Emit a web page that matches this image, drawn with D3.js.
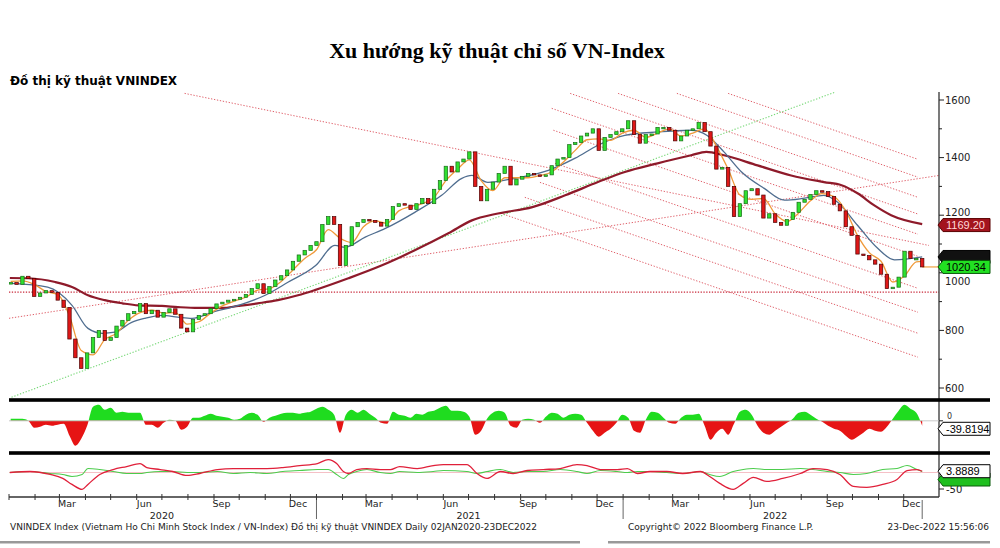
<!DOCTYPE html>
<html><head><meta charset="utf-8">
<script src="https://cdn.jsdelivr.net/npm/d3@7"></script>
<style>body{margin:0;background:#fff;} svg{display:block;}</style>
</head><body><svg id="c" width="1000" height="548"></svg>
<script>
// ---------------- DATA ----------------
const weeks = ["2020-01-03","2020-01-10","2020-01-17","2020-01-24","2020-01-31","2020-02-07","2020-02-14","2020-02-21","2020-02-28","2020-03-06","2020-03-13","2020-03-20","2020-03-27","2020-04-03","2020-04-10","2020-04-17","2020-04-24","2020-05-01","2020-05-08","2020-05-15","2020-05-22","2020-05-29","2020-06-05","2020-06-12","2020-06-19","2020-06-26","2020-07-03","2020-07-10","2020-07-17","2020-07-24","2020-07-31","2020-08-07","2020-08-14","2020-08-21","2020-08-28","2020-09-04","2020-09-11","2020-09-18","2020-09-25","2020-10-02","2020-10-09","2020-10-16","2020-10-23","2020-10-30","2020-11-06","2020-11-13","2020-11-20","2020-11-27","2020-12-04","2020-12-11","2020-12-18","2020-12-25",
"2021-01-01","2021-01-08","2021-01-15","2021-01-22","2021-01-29","2021-02-05","2021-02-12","2021-02-19","2021-02-26","2021-03-05","2021-03-12","2021-03-19","2021-03-26","2021-04-02","2021-04-09","2021-04-16","2021-04-23","2021-04-30","2021-05-07","2021-05-14","2021-05-21","2021-05-28","2021-06-04","2021-06-11","2021-06-18","2021-06-25","2021-07-02","2021-07-09","2021-07-16","2021-07-23","2021-07-30","2021-08-06","2021-08-13","2021-08-20","2021-08-27","2021-09-03","2021-09-10","2021-09-17","2021-09-24","2021-10-01","2021-10-08","2021-10-15","2021-10-22","2021-10-29","2021-11-05","2021-11-12","2021-11-19","2021-11-26","2021-12-03","2021-12-10","2021-12-17","2021-12-24","2021-12-31",
"2022-01-07","2022-01-14","2022-01-21","2022-01-28","2022-02-04","2022-02-11","2022-02-18","2022-02-25","2022-03-04","2022-03-11","2022-03-18","2022-03-25","2022-04-01","2022-04-08","2022-04-15","2022-04-22","2022-04-29","2022-05-06","2022-05-13","2022-05-20","2022-05-27","2022-06-03","2022-06-10","2022-06-17","2022-06-24","2022-07-01","2022-07-08","2022-07-15","2022-07-22","2022-07-29","2022-08-05","2022-08-12","2022-08-19","2022-08-26","2022-09-02","2022-09-09","2022-09-16","2022-09-23","2022-09-30","2022-10-07","2022-10-14","2022-10-21","2022-10-28","2022-11-04","2022-11-11","2022-11-18","2022-11-25","2022-12-02","2022-12-09","2022-12-16","2022-12-23"];

const closes = [966,960,988,980,918,930,938,932,905,880,770,705,668,722,775,800,765,775,815,835,858,866,893,858,870,846,862,875,856,808,795,838,852,858,876,892,898,905,908,915,925,945,962,928,952,975,990,1010,1040,1062,1078,1095,
1108,1168,1195,1168,1025,1095,1160,1175,1185,1182,1175,1162,1185,1230,1240,1235,1220,1240,1258,1240,1290,1320,1370,1350,1385,1395,1420,1300,1250,1290,1315,1345,1370,1305,1325,1335,1345,1340,1335,1340,1372,1395,1400,1445,1452,1475,1485,1500,1425,1470,1480,1490,1500,
1528,1480,1450,1480,1482,1505,1505,1495,1458,1475,1495,1500,1522,1490,1440,1360,1366,1300,1195,1240,1285,1292,1270,1190,1205,1175,1165,1185,1210,1245,1255,1272,1285,1282,1265,1238,1215,1160,1130,1065,1060,1045,1030,995,945,950,985,1075,1050,1050,1020.34];

const macdHist = [16,16,16,0,-56,-48,-32,-40,-32,-24,
-120,-200,-144,-40,112,128,88,104,64,72,
64,64,64,-32,-32,-56,-16,8,0,-72,
-48,24,24,40,56,40,32,24,8,16,
48,64,48,-8,24,40,56,64,64,56,
64,72,96,112,88,48,-96,48,88,64,
88,56,24,-16,-24,72,48,40,24,56,
48,72,80,104,120,80,80,72,32,-112,
-80,16,64,80,64,-40,-56,8,16,8,
-16,32,64,56,24,48,56,48,-16,-80,
-128,-96,-64,-16,48,24,-80,-96,8,72,
64,24,-16,-24,24,48,48,56,-40,-152,
-96,-64,-112,-24,72,88,48,-40,-96,-112,
-80,-48,-16,16,64,72,48,16,-8,-40,
-64,-80,-120,-152,-128,-96,-64,-80,-88,-48,
16,80,128,96,64,-39.8194];

const maShort = [["2020-01-03",970],["2020-01-17",972],["2020-01-31",960],["2020-02-14",935],["2020-02-28",925],["2020-03-13",850],["2020-03-27",730],["2020-04-10",715],["2020-04-24",768],["2020-05-08",790],["2020-05-22",835],["2020-06-05",862],["2020-06-19",870],["2020-07-03",860],["2020-07-17",862],["2020-07-31",822],["2020-08-14",830],["2020-08-28",860],["2020-09-11",885],["2020-09-25",902],["2020-10-09",915],["2020-10-23",940],["2020-11-06",945],["2020-11-20",970],["2020-12-04",1010],["2020-12-18",1050],["2021-01-01",1080],["2021-01-15",1150],["2021-01-29",1120],["2021-02-12",1105],["2021-02-26",1160],["2021-03-12",1180],["2021-03-26",1172],["2021-04-09",1215],["2021-04-23",1230],["2021-05-07",1240],["2021-05-21",1262],["2021-06-04",1320],["2021-06-18",1360],["2021-07-02",1392],["2021-07-16",1320],["2021-07-30",1285],["2021-08-13",1330],["2021-08-27",1330],["2021-09-10",1330],["2021-09-24",1338],["2021-10-08",1350],["2021-10-22",1385],["2021-11-05",1425],["2021-11-19",1462],["2021-12-03",1465],["2021-12-17",1460],["2021-12-31",1485],["2022-01-14",1495],["2022-01-28",1470],["2022-02-11",1485],["2022-02-25",1500],["2022-03-11",1475],["2022-03-25",1485],["2022-04-08",1500],["2022-04-22",1440],["2022-05-06",1360],["2022-05-20",1270],["2022-06-03",1255],["2022-06-17",1258],["2022-07-01",1205],["2022-07-15",1178],["2022-07-29",1208],["2022-08-12",1250],["2022-08-26",1275],["2022-09-09",1265],["2022-09-23",1215],["2022-10-07",1130],["2022-10-21",1070],["2022-11-04",1040],["2022-11-18",968],["2022-12-02",990],["2022-12-16",1038],["2022-12-23",1040]];

const maMid = [["2020-01-04",963],["2020-02-16",950],["2020-03-16",887],["2020-04-04",807],["2020-04-21",790],["2020-05-06",794],["2020-05-26",828],["2020-06-11",842],["2020-07-01",852],["2020-07-20",846],["2020-08-06",842],["2020-08-30",863],["2020-09-30",887],["2020-11-01",922],["2020-11-28",967],["2020-12-31",1025],["2021-01-23",1095],["2021-02-04",1089],["2021-02-28",1124],["2021-03-24",1154],["2021-04-28",1210],["2021-05-30",1269],["2021-06-23",1328],["2021-07-05",1338],["2021-07-24",1314],["2021-08-25",1328],["2021-10-04",1356],["2021-11-05",1398],["2021-12-02",1443],["2022-01-03",1477],["2022-02-11",1489],["2022-03-23",1495],["2022-04-11",1477],["2022-05-01",1420],["2022-05-22",1350],["2022-06-18",1293],["2022-07-12",1252],["2022-08-05",1259],["2022-08-28",1269],["2022-09-13",1246],["2022-10-07",1165],["2022-10-31",1085],["2022-11-20",1045],["2022-12-23",1055]];

const maLong = [["2020-01-02",982],["2020-01-24",981],["2020-02-25",968],["2020-03-16",951],["2020-04-04",922],["2020-04-24",905],["2020-05-15",894],["2020-06-03",887],["2020-07-01",885],["2020-07-20",881],["2020-08-13",878],["2020-09-11",878],["2020-09-30",885],["2020-10-23",894],["2020-11-16",905],["2020-12-10",922],["2020-12-30",940],["2021-02-08",981],["2021-03-20",1026],["2021-04-28",1078],["2021-06-07",1137],["2021-07-05",1182],["2021-08-05",1206],["2021-09-15",1228],["2021-10-24",1269],["2021-12-02",1315],["2022-01-03",1350],["2022-02-11",1380],["2022-03-23",1408],["2022-04-10",1420],["2022-05-01",1408],["2022-06-10",1373],["2022-07-20",1338],["2022-08-28",1315],["2022-09-18",1304],["2022-10-07",1276],["2022-10-27",1234],["2022-11-16",1200],["2022-12-23",1169.2]];

const oscDates = ["2020-01-02","2020-01-26","2020-02-19","2020-03-05","2020-03-16","2020-03-28","2020-04-04","2020-04-18","2020-05-04","2020-05-20","2020-06-05","2020-06-13","2020-06-29","2020-07-14","2020-07-31","2020-08-15","2020-09-05","2020-09-24","2020-10-14","2020-11-03","2020-11-22","2020-12-12","2021-01-02","2021-01-15","2021-01-25","2021-02-02","2021-02-08","2021-02-18","2021-03-02","2021-03-18","2021-03-30","2021-04-10","2021-05-01","2021-05-20","2021-06-01","2021-06-29","2021-07-11","2021-07-23","2021-08-08","2021-08-23","2021-09-09","2021-09-28","2021-10-18","2021-11-07","2021-11-19","2021-12-05","2021-12-25","2022-01-06","2022-01-18","2022-02-02","2022-02-22","2022-03-13","2022-04-03","2022-04-14","2022-04-26","2022-05-12","2022-05-24","2022-06-05","2022-06-21","2022-07-10","2022-07-31","2022-08-15","2022-09-01","2022-09-16","2022-10-02","2022-10-18","2022-11-06","2022-11-23","2022-12-05","2022-12-17","2022-12-23"];
const oscRed = [0,3,-6,-18,-36,-51,-36,-6,9,18,27,15,9,3,-9,-3,9,12,12,12,15,21,27,39,27,3,-3,9,12,9,9,18,12,21,24,24,-3,-18,3,-3,6,9,12,24,21,9,9,12,-3,3,3,-3,3,-12,-33,-51,-33,-15,-27,-18,-3,12,9,-6,-42,-45,-36,-21,6,9,3.8889];
const oscGreen = [0,3,-3,-6,-12,-6,12,9,3,-3,-3,0,3,3,0,0,3,-3,0,-3,3,6,9,9,-6,-18,-6,3,9,0,-3,3,0,3,6,3,-3,3,9,0,3,3,9,3,-3,6,3,0,3,3,0,-3,3,-6,-12,3,9,12,9,9,12,9,3,0,-6,-3,9,12,21,9,3];

// trend lines: [startDate, startValue, endDate, endValue]
const redTrendLines = [
 ["2020-07-28",1623,"2022-12-31",1095],
 ["2020-01-01",842,"2023-01-12",1338],
 ["2021-10-30",1623,"2022-12-18",1204],
 ["2021-12-26",1623,"2022-12-18",1262],
 ["2022-03-06",1623,"2022-12-18",1332],
 ["2022-05-06",1623,"2022-12-18",1394],
 ["2021-10-08",1571,"2022-12-18",1134],
 ["2021-10-10",1495,"2022-12-18",1057],
 ["2021-10-12",1380,"2022-12-18",946],
 ["2021-09-24",1314,"2022-12-18",863],
 ["2021-09-06",1262,"2022-12-18",790],
 ["2021-08-08",1207,"2022-12-18",707]
];
const supportLine = ["2020-01-01",933,"2023-01-12",933];
const greenTrendLine = ["2020-01-04",568,"2022-09-10",1627];

const priceTicks = [600,800,1000,1200,1400,1600];
const monthLabels = ["Mar","Jun","Sep","Dec"];
const years = ["2020","2021","2022"];
const lastClose = 1020.34, lastLong = 1169.20, lastMid = 1055, lastHist = -39.8194, lastOscRed = 3.8889, lastOscGreen = 3;

// ---------------- CHART ----------------
const P = d3.timeParse("%Y-%m-%d");
const svg = d3.select("#c");
const FONT = "'DejaVu Sans', Verdana, sans-serif";

const x = d3.scaleTime().domain([P("2020-01-01"), P("2023-01-12")]).range([9, 939]);
const y = d3.scaleLinear().domain([600,1600]).range([388,100]);
const yH = d3.scaleLinear().domain([-210,135]).range([447,404]);
const yO = d3.scaleLinear().domain([-50,0]).range([489,472.5]);

// titles
svg.append("text").attr("x",497).attr("y",58).attr("text-anchor","middle")
  .attr("font-family","'Liberation Serif','DejaVu Serif',serif").attr("font-weight","bold")
  .attr("font-size",22).text("Xu hướng kỹ thuật chỉ số VN-Index");
svg.append("text").attr("x",10).attr("y",85).attr("font-family",FONT).attr("font-weight","bold")
  .attr("font-size",12).text("Đồ thị kỹ thuật VNINDEX");

// clip for main panel
const defs = svg.append("defs");
defs.append("clipPath").attr("id","mainClip").append("rect").attr("x",9).attr("y",88).attr("width",930).attr("height",310);
defs.append("clipPath").attr("id","posClip").append("rect").attr("x",9).attr("y",400).attr("width",930).attr("height",yH(0)-400);
defs.append("clipPath").attr("id","negClip").append("rect").attr("x",9).attr("y",yH(0)).attr("width",930).attr("height",453-yH(0));

const main = svg.append("g").attr("clip-path","url(#mainClip)");

// trend lines
function tl(g, d, color, dash, w){
  g.append("line").attr("x1",x(P(d[0]))).attr("y1",y(d[1])).attr("x2",x(P(d[2]))).attr("y2",y(d[3]))
   .attr("stroke",color).attr("stroke-width",w).attr("stroke-dasharray",dash);
}
redTrendLines.forEach(d=>tl(main,d,"#e0606a","1.3,1.7",1));
tl(main,supportLine,"#c8283a","1.3,1.5",1.1);
tl(main,greenTrendLine,"#77d877","1.3,1.7",1.1);

// moving averages
const lineGen = d3.line().x(d=>x(P(d[0]))).y(d=>y(d[1])).curve(d3.curveMonotoneX);
main.append("path").datum(maLong).attr("d",lineGen).attr("fill","none").attr("stroke","#8e1a2a").attr("stroke-width",2.2);
main.append("path").datum(maMid).attr("d",lineGen).attr("fill","none").attr("stroke","#4f6d8f").attr("stroke-width",1.3);
main.append("path").datum(maShort).attr("d",lineGen).attr("fill","none").attr("stroke","#f09a3a").attr("stroke-width",1.3);

// last price line
main.append("line").attr("x1",x(P(weeks[weeks.length-1]))).attr("x2",939).attr("y1",y(lastClose)).attr("y2",y(lastClose))
  .attr("stroke","#f0a040").attr("stroke-width",1.2);

// candles
const cw = 3.4;
main.selectAll("rect.c").data(closes).enter().append("rect")
  .attr("x",(d,i)=>x(P(weeks[i]))-cw/2)
  .attr("y",(d,i)=>{const o = i>0?closes[i-1]:d; return y(Math.max(o,d));})
  .attr("width",cw)
  .attr("height",(d,i)=>{const o = i>0?closes[i-1]:d; return Math.max(1.5, Math.abs(y(o)-y(d)));})
  .attr("fill",(d,i)=>{const o = i>0?closes[i-1]:d; return d>=o?"#2fe02f":"#e01818";})
  .attr("stroke",(d,i)=>{const o = i>0?closes[i-1]:d; return d>=o?"#176a17":"#4a0000";})
  .attr("stroke-width",0.7);

// right axis main
const axX = 939;
svg.append("line").attr("x1",axX).attr("x2",axX).attr("y1",92).attr("y2",497).attr("stroke","#222").attr("stroke-width",1.2);
d3.range(600,1601,100).forEach(v=>{
  svg.append("line").attr("x1",axX).attr("x2",axX+(v%200===0?5:3)).attr("y1",y(v)).attr("y2",y(v)).attr("stroke","#222");
});
// tick labels; those under a value tag are nudged clear of it
const labelNudge = {1200:-3, 1000:9};
priceTicks.forEach(v=>{
  svg.append("text").attr("x",axX+6).attr("y",y(v)+3.5+(labelNudge[v]||0)).attr("font-family",FONT).attr("font-size",10).attr("fill","#222").text(v);
});

function tag(yc, text, fill, stroke, tcolor){
  const g = svg.append("g");
  g.append("path").attr("d",`M${axX-1},${yc} L${axX+4},${yc-6.5} L990,${yc-6.5} L990,${yc+6.5} L${axX+4},${yc+6.5} Z`)
   .attr("fill",fill).attr("stroke",stroke).attr("stroke-width",1);
  if(text) g.append("text").attr("x",axX+7).attr("y",yc+4).attr("font-family","'Liberation Sans',Arial,sans-serif").attr("font-size",11).attr("fill",tcolor).text(text);
}
tag(y(lastLong)+1, lastLong.toFixed(2), "#a3141e", "#5a0000", "#ffd8d8");
tag(y(lastMid), "", "#111", "#000", "#fff");
tag(y(lastClose), lastClose.toFixed(2), "#22e022", "#0a5a0a", "#000");

// separators
[400,453].forEach(yy=>svg.append("rect").attr("x",9).attr("y",yy-1.8).attr("width",981).attr("height",3.6).attr("fill","#000"));

// MACD histogram panel
const area = d3.area().x((d,i)=>x(P(weeks[i]))).y0(yH(0)).y1(d=>yH(d)).curve(d3.curveMonotoneX);
svg.append("path").datum(macdHist).attr("d",area).attr("fill","#1fdc1f").attr("clip-path","url(#posClip)");
svg.append("path").datum(macdHist).attr("d",area).attr("fill","#e61414").attr("clip-path","url(#negClip)");
svg.append("line").attr("x1",9).attr("x2",axX).attr("y1",yH(0)).attr("y2",yH(0)).attr("stroke","#bbb").attr("stroke-width",0.8);
svg.append("line").attr("x1",axX).attr("x2",axX+4).attr("y1",yH(0)).attr("y2",yH(0)).attr("stroke","#222");
svg.append("text").attr("x",axX+8).attr("y",yH(0)-2).attr("font-family",FONT).attr("font-size",8).attr("fill","#333").text("0");
tag(yH(lastHist)+3, String(lastHist), "#fff", "#000", "#000");

// oscillator panel
svg.append("line").attr("x1",9).attr("x2",axX).attr("y1",yO(0)).attr("y2",yO(0)).attr("stroke","#f2b0b8").attr("stroke-width",0.8);
const oLine = arr => d3.line().x((d,i)=>x(P(oscDates[i]))).y(d=>yO(d)).curve(d3.curveMonotoneX)(arr);
svg.append("path").attr("d",oLine(oscGreen)).attr("fill","none").attr("stroke","#4ccc4c").attr("stroke-width",1.1);
svg.append("path").attr("d",oLine(oscRed)).attr("fill","none").attr("stroke","#e0203a").attr("stroke-width",1.3);
svg.append("line").attr("x1",axX).attr("x2",axX+5).attr("y1",yO(-50)).attr("y2",yO(-50)).attr("stroke","#222");
svg.append("text").attr("x",axX+7).attr("y",yO(-50)+4).attr("font-family",FONT).attr("font-size",10).attr("fill","#222").text("-50");
tag(yO(lastOscGreen)+8, "", "#1fbf1f", "#0a5a0a", "#000");
tag(yO(lastOscRed), String(lastOscRed), "#fff", "#000", "#000");

// x axis
svg.append("line").attr("x1",9).attr("x2",axX).attr("y1",497).attr("y2",497).attr("stroke","#333").attr("stroke-width",1.3);
d3.timeMonth.range(P("2020-01-01"), P("2023-01-01")).forEach(m=>{
  svg.append("line").attr("x1",x(m)).attr("x2",x(m)).attr("y1",494).attr("y2",500).attr("stroke","#333");
});
d3.timeMonth.range(P("2020-03-01"), P("2023-01-01"), 3).forEach(m=>{
  svg.append("text").attr("x",x(d3.timeDay.offset(m,9))).attr("y",507).attr("text-anchor","middle")
    .attr("font-family",FONT).attr("font-size",9.5).attr("fill","#222").text(monthLabels[(m.getMonth()-2)/3]);
});
years.forEach(yr=>{
  svg.append("text").attr("x",x(P(yr+"-07-01"))).attr("y",518.5).attr("text-anchor","middle")
    .attr("font-family",FONT).attr("font-size",9.5).attr("fill","#222").text(yr);
});
["2021-01-01","2022-01-01",weeks[weeks.length-1]].forEach(s=>{
  svg.append("line").attr("x1",x(P(s))).attr("x2",x(P(s))).attr("y1",500).attr("y2",519).attr("stroke","#555").attr("stroke-width",0.9);
});

// footer
const ft = (tx,xx,anchor)=>svg.append("text").attr("x",xx).attr("y",530).attr("text-anchor",anchor).attr("font-family",FONT).attr("font-size",9).attr("fill","#222").text(tx);
ft("VNINDEX Index (Vietnam Ho Chi Minh Stock Index / VN-Index) Đồ thị kỹ thuật VNINDEX  Daily 02JAN2020-23DEC2022",10,"start");
ft("Copyright© 2022 Bloomberg Finance L.P.",628,"start");
ft("23-Dec-2022 15:56:06",989,"end");
svg.append("rect").attr("x",0).attr("y",541).attr("width",580).attr("height",2.5).attr("fill","#999");
svg.append("rect").attr("x",608).attr("y",541).attr("width",382).attr("height",2.5).attr("fill","#999");
</script></body></html>
